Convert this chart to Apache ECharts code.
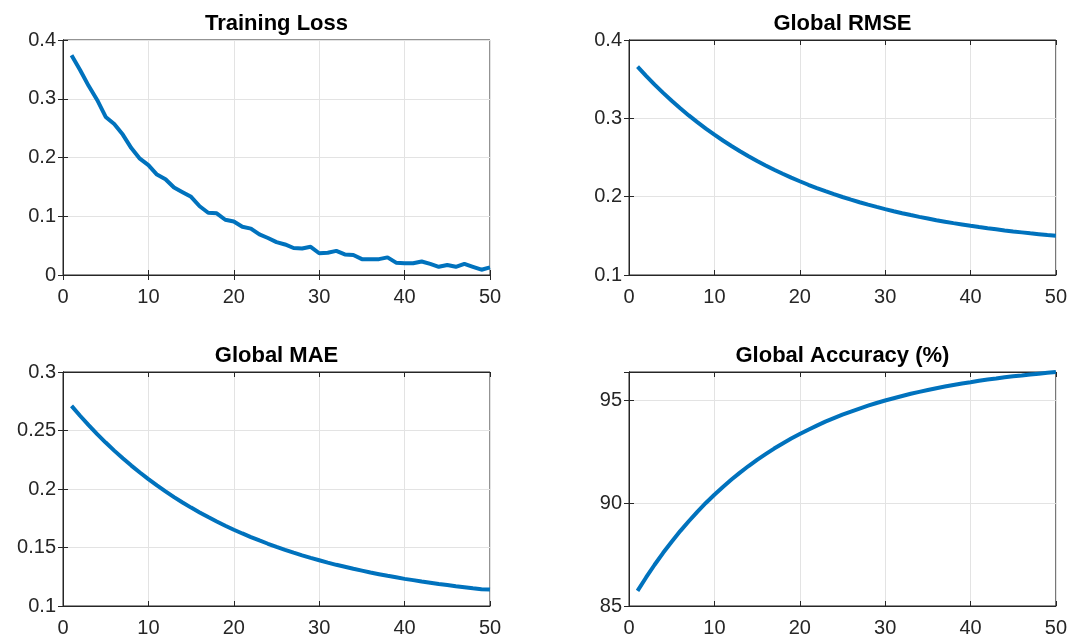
<!DOCTYPE html>
<html>
<head>
<meta charset="utf-8">
<script src="https://cdn.jsdelivr.net/npm/echarts@6/dist/echarts.min.js"></script>
<style>
  html, body { margin: 0; padding: 0; background: #ffffff; }
  #chart { width: 1070px; height: 639px; }
</style>
</head>
<body>
<div id="chart"></div>
<script>
// ---- data ----
const epochs = [1,2,3,4,5,6,7,8,9,10,11,12,13,14,15,16,17,18,19,20,21,22,23,24,25,26,27,28,29,30,31,32,33,34,35,36,37,38,39,40,41,42,43,44,45,46,47,48,49,50];

const trainingLoss = [0.374,0.349,0.322,0.298,0.269,0.257,0.239,0.216,0.198,0.187,
  0.171,0.163,0.149,0.141,0.133,0.117,0.106,0.105,0.094,0.091,
  0.082,0.079,0.069,0.063,0.056,0.052,0.046,0.045,0.048,0.037,
  0.038,0.041,0.035,0.034,0.027,0.027,0.027,0.030,0.021,0.020,
  0.020,0.023,0.019,0.014,0.017,0.014,0.019,0.014,0.009,0.013];

const globalRMSE = [0.3660,0.3543,0.3431,0.3325,0.3224,0.3128,0.3037,0.2951,0.2869,0.2791,
  0.2717,0.2647,0.2580,0.2516,0.2456,0.2399,0.2344,0.2293,0.2243,0.2197,
  0.2152,0.2110,0.2070,0.2032,0.1996,0.1962,0.1929,0.1898,0.1869,0.1841,
  0.1814,0.1789,0.1765,0.1742,0.1721,0.1700,0.1681,0.1662,0.1645,0.1628,
  0.1612,0.1597,0.1583,0.1569,0.1556,0.1544,0.1532,0.1521,0.1510,0.1500];

const globalMAE = [0.2710,0.2626,0.2546,0.2469,0.2397,0.2328,0.2262,0.2200,0.2141,0.2084,
  0.2031,0.1980,0.1931,0.1885,0.1841,0.1800,0.1760,0.1722,0.1686,0.1652,
  0.1620,0.1589,0.1560,0.1532,0.1505,0.1480,0.1456,0.1433,0.1411,0.1391,
  0.1371,0.1352,0.1335,0.1318,0.1302,0.1286,0.1272,0.1258,0.1245,0.1232,
  0.1221,0.1209,0.1199,0.1188,0.1179,0.1169,0.1161,0.1152,0.1144,0.1140];

const globalAccuracy = [85.74,86.39,87.01,87.59,88.13,88.65,89.13,89.59,90.02,90.42,
  90.80,91.16,91.50,91.82,92.12,92.40,92.67,92.92,93.16,93.38,
  93.59,93.79,93.98,94.15,94.32,94.47,94.62,94.76,94.89,95.01,
  95.12,95.23,95.34,95.43,95.52,95.61,95.69,95.77,95.84,95.90,
  95.97,96.03,96.08,96.14,96.19,96.23,96.28,96.32,96.36,96.40];

const xTicks = [0, 10, 20, 30, 40, 50];
const lossTicks = [0, 0.1, 0.2, 0.3, 0.4];
const rmseTicks = [0.1, 0.2, 0.3, 0.4];
const maeTicks = [0.1, 0.15, 0.2, 0.25, 0.3];
const accTicks = [85, 90, 95];
const accMax = 96.4;

const titles = ['Training Loss', 'Global RMSE', 'Global MAE', 'Global Accuracy (%)'];

// ---- layout / style ----
const FONT = "'Liberation Sans', Arial, Helvetica, sans-serif";
const AX = '#262626';
const GRIDC = '#e3e3e3';
const LINEC = '#0072BD';

const panels = [
  { title: titles[0], data: trainingLoss, ticks: lossTicks, yMax: lossTicks[lossTicks.length-1], box: {left: 63, top: 40, width: 427, height: 235} },
  { title: titles[1], data: globalRMSE, ticks: rmseTicks, yMax: rmseTicks[rmseTicks.length-1], box: {left: 629, top: 40, width: 428, height: 235} },
  { title: titles[2], data: globalMAE, ticks: maeTicks, yMax: maeTicks[maeTicks.length-1], box: {left: 63, top: 372, width: 427, height: 234} },
  { title: titles[3], data: globalAccuracy, ticks: accTicks, yMax: accMax, box: {left: 629, top: 372, width: 428, height: 234} }
];

const fmt = v => String(+v.toFixed(6));

const grid = [], xAxis = [], yAxis = [], series = [];
panels.forEach((p, i) => {
  grid.push(Object.assign({ show: true, borderColor: AX, borderWidth: 1, backgroundColor: '#fff' }, p.box));
  const xStep = xTicks[1] - xTicks[0];
  const yStep = +(p.ticks[1] - p.ticks[0]).toFixed(6);
  const xCommon = { type: 'value', gridIndex: i, min: xTicks[0], max: xTicks[xTicks.length-1], interval: xStep };
  const yCommon = { type: 'value', gridIndex: i, min: p.ticks[0], max: p.yMax, interval: yStep };
  xAxis.push(Object.assign({}, xCommon, {
    position: 'bottom',
    axisLine: { show: true, lineStyle: { color: AX, width: 1 } },
    axisTick: { show: true, inside: true, length: 5, lineStyle: { color: AX } },
    axisLabel: { color: AX, fontFamily: FONT, fontSize: 20, margin: 12, formatter: fmt },
    splitLine: { show: true, lineStyle: { color: GRIDC, width: 1 } }
  }));
  xAxis.push(Object.assign({}, xCommon, {
    position: 'top',
    name: p.title, nameLocation: 'middle', nameGap: 5,
    nameTextStyle: { color: '#000', fontFamily: FONT, fontSize: 22, fontWeight: 'bold' },
    axisLine: { show: true, lineStyle: { color: AX, width: 1 } },
    axisTick: { show: true, inside: true, length: 5, lineStyle: { color: AX } },
    axisLabel: { show: false },
    splitLine: { show: false }
  }));
  yAxis.push(Object.assign({}, yCommon, {
    position: 'left',
    axisLine: { show: true, lineStyle: { color: AX, width: 1 } },
    axisTick: { show: true, inside: true, length: 5, lineStyle: { color: AX } },
    axisLabel: { color: AX, fontFamily: FONT, fontSize: 20, margin: 7, formatter: fmt,
                 showMaxLabel: p.yMax === p.ticks[p.ticks.length-1] },
    splitLine: { show: true, lineStyle: { color: GRIDC, width: 1 } }
  }));
  yAxis.push(Object.assign({}, yCommon, {
    position: 'right',
    axisLine: { show: true, lineStyle: { color: AX, width: 1 } },
    axisTick: { show: true, inside: true, length: 5, lineStyle: { color: AX } },
    axisLabel: { show: false },
    splitLine: { show: false }
  }));
  series.push({
    type: 'line',
    xAxisIndex: i * 2,
    yAxisIndex: i * 2,
    data: epochs.map((e, k) => [e, p.data[k]]),
    showSymbol: false,
    symbol: 'none',
    smooth: false,
    lineStyle: { color: LINEC, width: 4 },
    itemStyle: { color: LINEC },
    clip: false,
    animation: false
  });
});

const chart = echarts.init(document.getElementById('chart'), null, { renderer: 'canvas' });
chart.setOption({
  backgroundColor: '#ffffff',
  animation: false,
  grid, xAxis, yAxis, series
});
</script>
</body>
</html>
